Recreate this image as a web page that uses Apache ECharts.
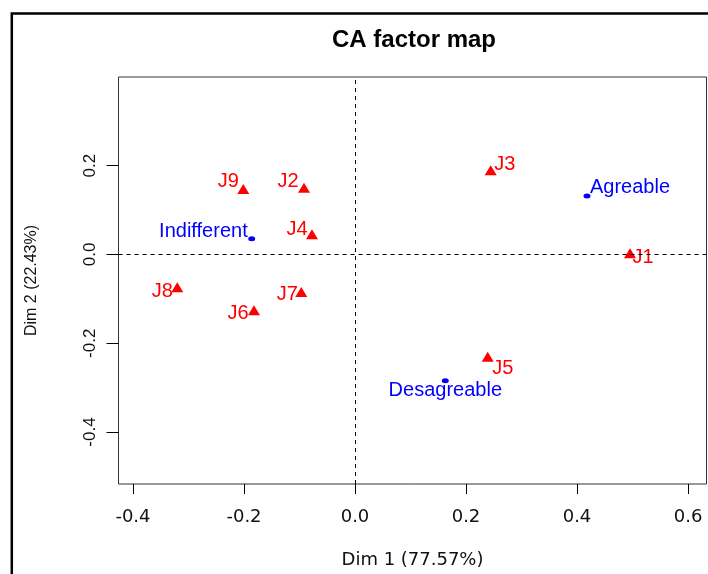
<!DOCTYPE html>
<html>
<head>
<meta charset="utf-8">
<script src="https://cdn.jsdelivr.net/npm/echarts@6/dist/echarts.min.js"></script>
<style>
html,body{margin:0;padding:0;background:#fff;}
#chart{width:708px;height:574px;}
</style>
</head>
<body>
<div id="chart"></div>
<script>
// ---- data ----
const rowNames = ['J1','J2','J3','J4','J5','J6','J7','J8','J9'];
const rowDim1 = [0.4955, -0.0919, 0.2445, -0.0775, 0.2391, -0.1820, -0.0968, -0.3202, -0.2013];
const rowDim2 = [0.0027, 0.1505, 0.1897, 0.0455, -0.2303, -0.1257, -0.0845, -0.0739, 0.1476];
const colNames = ['Agreable','Desagreable','Indifferent'];
const colDim1 = [0.4180, 0.1627, -0.1861];
const colDim2 = [0.1318, -0.2844, 0.0356];
const xTicks = [-0.4, -0.2, 0.0, 0.2, 0.4, 0.6];
const yTicks = [-0.4, -0.2, 0.0, 0.2];
const titleText = 'CA factor map';
const xName = 'Dim 1 (77.57%)';
const yName = 'Dim 2 (22.43%)';

// ---- label placement (style only) ----
const labelPlace = {
  J1:['center',13,4], J2:['center',-16,-6], J3:['center',14,-6], J4:['center',-15,-5],
  J5:['center',15,12], J6:['center',-16,3], J7:['center',-14,3], J8:['center',-15,4],
  J9:['center',-15,-7], Agreable:['left',3,-8], Desagreable:['center',0,10], Indifferent:['right',-4,-7]
};

function mk(names, xs, ys) {
  return names.map((n, i) => {
    const p = labelPlace[n];
    return { name: n, value: [xs[i], ys[i]],
      label: { align: p[0], offset: [p[1], p[2]] } };
  });
}

const chart = echarts.init(document.getElementById('chart'), null, {renderer:'canvas'});
const labelFont = { fontFamily: 'Liberation Sans, Arial, sans-serif', fontSize: 20 };

chart.setOption({
  animation: false,
  backgroundColor: '#fff',
  title: {
    text: titleText, left: 327, top: 23,
    textStyle: { fontFamily: 'Liberation Sans, Arial, sans-serif', fontWeight: 'bold', fontSize: 24, color: '#000' }
  },
  graphic: [{
    type: 'rect', silent: true,
    shape: { x: 11.8, y: 13.5, width: 740, height: 620 },
    style: { fill: null, stroke: '#000', lineWidth: 2.5 }
  }],
  grid: { left: 118.5, top: 77, width: 588, height: 407, show: true, borderColor: '#333', borderWidth: 1, backgroundColor: 'transparent' },
  xAxis: {
    type: 'value', min: -0.4261, max: 0.6333,
    name: xName, nameLocation: 'middle', nameGap: 67,
    nameTextStyle: { fontFamily: 'DejaVu Sans', fontSize: 18, color: '#111' },
    axisLine: { show: false, onZero: false },
    splitLine: { show: false },
    axisTick: { show: true, length: 10, customValues: xTicks, lineStyle: { color: '#000' } },
    axisLabel: { customValues: xTicks, margin: 24, fontFamily: 'DejaVu Sans', fontSize: 18, color: '#111',
      formatter: v => v.toFixed(1) }
  },
  yAxis: {
    type: 'value', min: -0.5172, max: 0.3999,
    name: yName, nameLocation: 'middle', nameGap: 79,
    nameTextStyle: { fontFamily: 'Liberation Sans, Arial, sans-serif', fontSize: 16, color: '#111' },
    axisLine: { show: false, onZero: false },
    splitLine: { show: false },
    axisTick: { show: true, length: 12, customValues: yTicks, lineStyle: { color: '#000' } },
    axisLabel: { customValues: yTicks, rotate: 90, margin: 20, fontFamily: 'Liberation Sans, Arial, sans-serif', fontSize: 17, color: '#111',
      formatter: v => v.toFixed(1) }
  },
  series: [
    {
      type: 'scatter', name: 'rows',
      symbol: 'triangle', symbolSize: [12, 10],
      itemStyle: { color: '#ff0000', opacity: 1 },
      label: Object.assign({ show: true, position: 'inside', formatter: '{b}', color: '#ff0000' }, labelFont),
      data: mk(rowNames, rowDim1, rowDim2),
      markLine: {
        silent: true, symbol: 'none', animation: false,
        label: { show: false },
        lineStyle: { color: '#000', type: [4, 4], width: 1, opacity: 1 },
        data: [{ xAxis: 0 }, { yAxis: 0 }]
      },
      z: 3
    },
    {
      type: 'scatter', name: 'cols',
      symbol: 'circle', symbolSize: [7, 5],
      itemStyle: { color: '#0000ff', opacity: 1 },
      label: Object.assign({ show: true, position: 'inside', formatter: '{b}', color: '#0000ff' }, labelFont),
      data: mk(colNames, colDim1, colDim2),
      z: 3
    }
  ]
});
</script>
</body>
</html>
